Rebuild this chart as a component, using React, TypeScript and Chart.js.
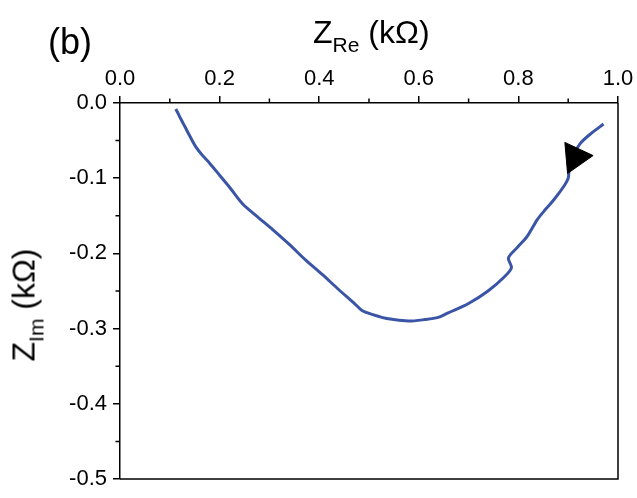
import React, { useEffect, useRef } from "react";
import { Chart, registerables } from "chart.js";

Chart.register(...registerables);

// Nyquist curve (kΩ)
const zRe = [0.112, 0.116, 0.122, 0.130, 0.141, 0.153, 0.166, 0.180, 0.200, 0.220, 0.246, 0.279, 0.306, 0.340, 0.373, 0.406, 0.439, 0.470, 0.486, 0.506, 0.539, 0.579, 0.612, 0.639, 0.659, 0.699, 0.739, 0.772, 0.786, 0.780, 0.798, 0.818, 0.838, 0.855, 0.872, 0.892, 0.900, 0.902, 0.910, 0.924, 0.945, 0.971];
const zIm = [-0.008, -0.013, -0.021, -0.031, -0.045, -0.059, -0.070, -0.080, -0.096, -0.112, -0.134, -0.153, -0.168, -0.188, -0.209, -0.228, -0.248, -0.266, -0.276, -0.281, -0.287, -0.290, -0.288, -0.285, -0.279, -0.267, -0.250, -0.231, -0.219, -0.206, -0.192, -0.177, -0.155, -0.141, -0.128, -0.110, -0.100, -0.088, -0.070, -0.054, -0.041, -0.028];

// arrow marker (direction indicator)
const arrowRe = [0.914];
const arrowIm = [-0.072];

const xMinorTicks = [0.1, 0.3, 0.5, 0.7, 0.9];
const yMinorTicks = [-0.05, -0.15, -0.25, -0.35, -0.45];

const FONT = "'Liberation Sans', Arial, sans-serif";

const boxPlugin = {
  id: "boxPlugin",
  afterDraw(chart: any) {
    const { ctx, chartArea: a, scales } = chart;
    ctx.save();
    ctx.strokeStyle = "#000";
    ctx.lineWidth = 1.5;
    ctx.beginPath();
    ctx.moveTo(a.right, a.top);
    ctx.lineTo(a.right, a.bottom);
    ctx.lineTo(a.left, a.bottom);
    ctx.stroke();
    ctx.beginPath();
    xMinorTicks.forEach((v) => {
      const px = scales.x.getPixelForValue(v);
      ctx.moveTo(px, a.top);
      ctx.lineTo(px, a.top - 4.5);
    });
    yMinorTicks.forEach((v) => {
      const py = scales.y.getPixelForValue(v);
      ctx.moveTo(a.left, py);
      ctx.lineTo(a.left - 4.5, py);
    });
    ctx.stroke();
    ctx.restore();
  },
};

export default function App() {
  const ref = useRef<HTMLCanvasElement | null>(null);

  useEffect(() => {
    document.body.style.margin = "0";
    const canvas = ref.current;
    if (!canvas) return;
    const chart = new Chart(canvas, {
      type: "scatter",
      data: {
        datasets: [
          {
            data: zRe.map((x, i) => ({ x, y: zIm[i] })),
            showLine: true,
            borderColor: "#3b55a6",
            borderWidth: 3,
            pointRadius: 0,
            tension: 0.3,
            order: 2,
          },
          {
            data: arrowRe.map((x, i) => ({ x, y: arrowIm[i] })),
            pointStyle: "triangle",
            rotation: 85,
            pointRadius: 18,
            backgroundColor: "#000",
            borderColor: "#000",
            borderWidth: 1,
            order: 1,
          },
        ],
      },
      options: {
        animation: false,
        responsive: false,
        layout: { padding: { left: 0, top: 0, right: 16, bottom: 8 } },
        plugins: {
          legend: { display: false },
          tooltip: { enabled: false },
        },
        scales: {
          x: {
            type: "linear",
            position: "top",
            min: 0,
            max: 1,
            ticks: {
              stepSize: 0.2,
              callback: (v: any) => Number(v).toFixed(1),
              font: { family: FONT, size: 22 },
              color: "#000",
              padding: 4,
              maxRotation: 0,
            },
            grid: { drawOnChartArea: false, tickLength: 7, color: "#000", lineWidth: 1.5 },
            border: { display: true, color: "#000", width: 1.5 },
            afterFit: (s: any) => {
              s.height = 103;
              s.paddingLeft = 0;
              s.paddingRight = 0;
            },
          },
          y: {
            type: "linear",
            min: -0.5,
            max: 0,
            ticks: {
              stepSize: 0.1,
              callback: (v: any) => Number(v).toFixed(1),
              font: { family: FONT, size: 22 },
              color: "#000",
              padding: 6,
            },
            grid: { drawOnChartArea: false, tickLength: 7, color: "#000", lineWidth: 1.5 },
            border: { display: true, color: "#000", width: 1.5 },
            afterFit: (s: any) => {
              s.width = 120;
              s.paddingTop = 0;
              s.paddingBottom = 0;
            },
          },
        },
      },
      plugins: [boxPlugin],
    });
    return () => chart.destroy();
  }, []);

  return (
    <div style={{ position: "relative", width: 637, height: 498, background: "#fff", fontFamily: FONT, color: "#000" }}>
      <canvas ref={ref} width={637} height={498} style={{ position: "absolute", left: 0, top: 0 }} />
      <div style={{ position: "absolute", left: 48, top: 21, fontSize: 36, lineHeight: "42px" }}>(b)</div>
      <div style={{ position: "absolute", left: 313, top: 13, fontSize: 32, lineHeight: "38px", whiteSpace: "nowrap" }}>
        Z<sub style={{ fontSize: 21, verticalAlign: "-9px" }}>Re</sub> (kΩ)
      </div>
      <div
        style={{
          position: "absolute",
          left: 30,
          top: 305,
          fontSize: 32,
          lineHeight: "38px",
          whiteSpace: "nowrap",
          transform: "translate(-50%, -50%) rotate(-90deg)",
        }}
      >
        Z<sub style={{ fontSize: 21, verticalAlign: "-9px" }}>Im</sub> (kΩ)
      </div>
    </div>
  );
}
